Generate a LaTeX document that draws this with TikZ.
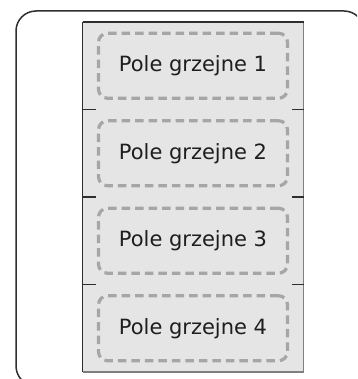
\documentclass[tikz,border=0pt]{standalone}
\usepackage{fontspec}
\setmainfont{DejaVu Sans}
\definecolor{framecol}{HTML}{2E2E2E}
\definecolor{panelfill}{HTML}{E5E5E5}
\definecolor{edgegray}{HTML}{7F7F7F}
\definecolor{dashgray}{HTML}{A6A6A6}
\definecolor{textcol}{HTML}{1E1E1E}
\tikzset{
  frame/.style={draw=framecol, line width=1.5pt, rounded corners=20pt},
  panel/.style={fill=panelfill, draw=none, minimum width=221pt, minimum height=87.5pt,
                anchor=north west, inner sep=0pt, outer sep=0pt},
  heatbox/.style={draw=dashgray, line width=3.2pt, dash pattern=on 8.5pt off 5pt,
                  rounded corners=9pt, minimum width=189pt, minimum height=65pt,
                  inner sep=0pt, text=textcol, font=\fontsize{21}{25}\selectfont},
  darkedge/.style={draw=framecol, line width=1.3pt},
  lightedge/.style={draw=edgegray, line width=1.3pt},
}
\begin{document}
\begin{tikzpicture}[x=1pt, y=-1pt]
\useasboundingbox (0,0) rectangle (357,379);
\clip (0,0) rectangle (357,379);
% outer frame, running past the lower and right borders
\draw[frame] (16,11) rectangle (364,386);
% stacked heating panels
\foreach \i/\t in {1/22, 2/109.5, 3/197, 4/284.5} {
  \node[panel] (panel\i) at (82.5,\t) {};
  \node[heatbox] (heat\i) at (panel\i.center) {Pole grzejne \i};
  \draw[lightedge] (panel\i.north east) -- (panel\i.south east);
  \draw[darkedge] (panel\i.north west) -- (panel\i.south west);
}
\draw[darkedge] (panel1.north west) -- (panel1.north east);
\draw[lightedge] (panel4.south west) -- (panel4.south east);
% short joints between neighbouring panels
\foreach \i in {2,3,4} {
  \draw[darkedge] (panel\i.north west) -- ++(13,0);
  \draw[darkedge] (panel\i.north east) -- ++(-12,0);
}
\end{tikzpicture}
\end{document}
